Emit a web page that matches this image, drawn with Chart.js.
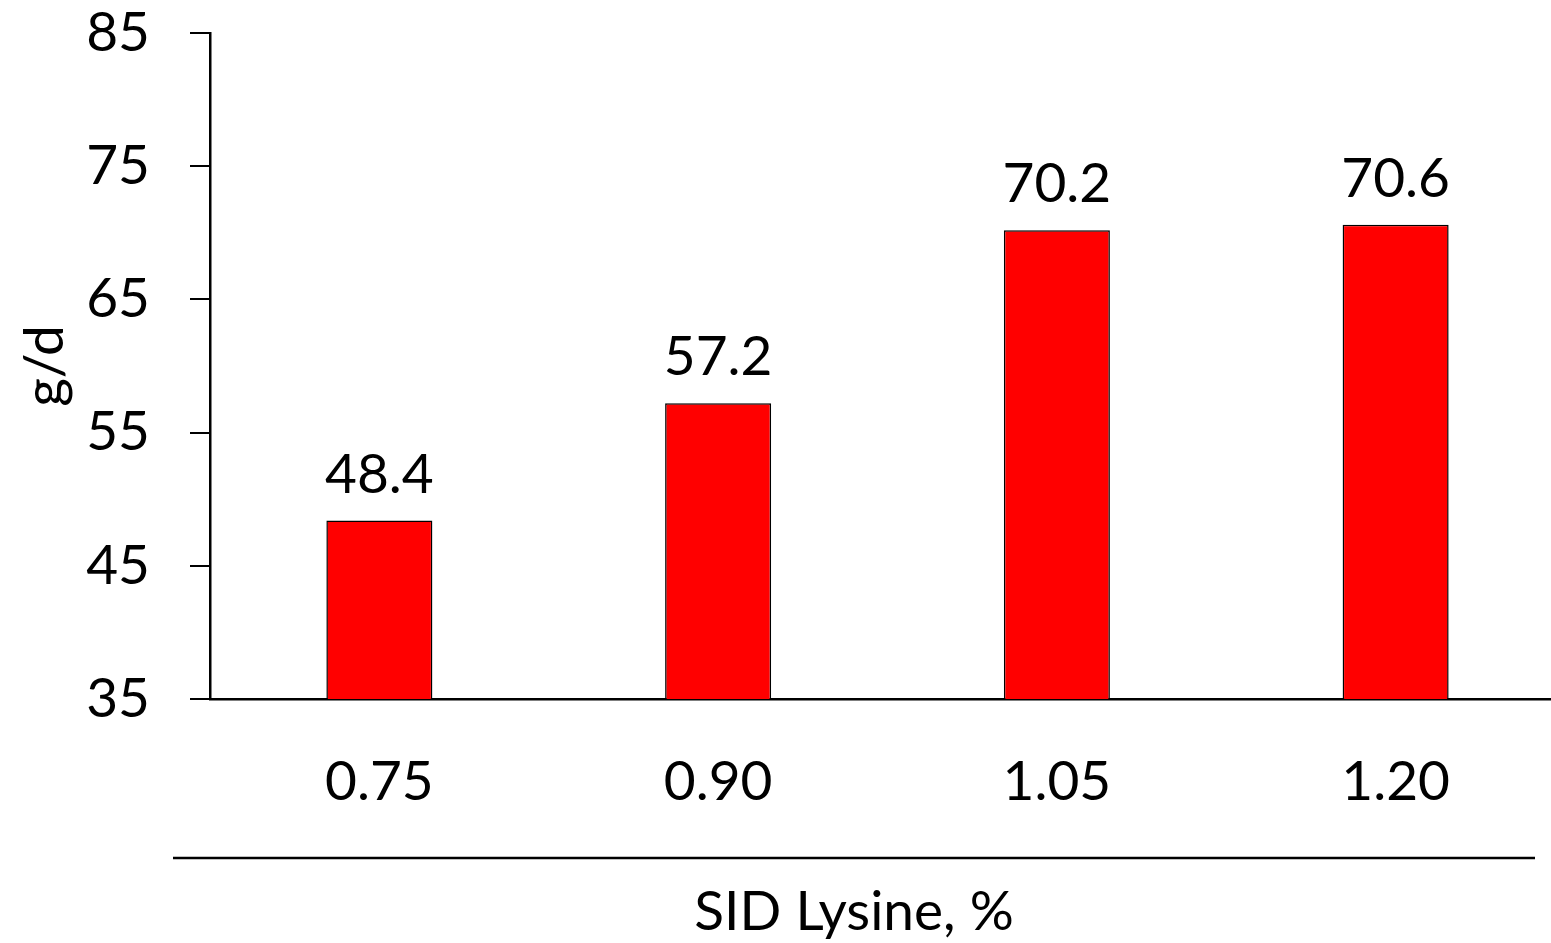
<!DOCTYPE html>
<html><head><meta charset="utf-8">
<script src="https://cdn.jsdelivr.net/npm/chart.js@4"></script>
<style>html,body{margin:0;padding:0;background:#fff;overflow:hidden;width:1551px;height:943px}#wrap{width:1551px;height:943px;overflow:hidden}canvas{display:block}</style>
</head><body><div id="wrap"><canvas id="c" width="1565" height="943"></canvas></div>
<script>
const categories = ["0.75", "0.90", "1.05", "1.20"];
const values = [48.4, 57.2, 70.2, 70.6];
const yTicks = [35, 45, 55, 65, 75, 85];
const xTitle = "SID Lysine, %";
const yTitle = "g/d";
const FONT = "Lato, 'Open Sans', sans-serif";
const FSIZE = 55;

const labelPlugin = {
  id: 'valueLabels',
  afterDatasetsDraw(chart) {
    const ctx = chart.ctx;
    const meta = chart.getDatasetMeta(0);
    ctx.save();
    ctx.fillStyle = '#000';
    ctx.font = FSIZE + 'px ' + FONT;
    ctx.textAlign = 'center';
    ctx.textBaseline = 'alphabetic';
    meta.data.forEach((bar, i) => {
      ctx.fillText(values[i].toFixed(1), bar.x, bar.y - 28);
    });
    ctx.restore();
  }
};
const sepLine = {
  id: 'sepLine',
  afterDraw(chart) {
    const ctx = chart.ctx;
    ctx.save();
    ctx.strokeStyle = '#000';
    ctx.lineWidth = 2.5;
    ctx.beginPath();
    ctx.moveTo(173, 858);
    ctx.lineTo(1535, 858);
    ctx.stroke();
    ctx.fillStyle = '#000';
    ctx.font = FSIZE + 'px ' + FONT;
    ctx.textAlign = 'center';
    ctx.textBaseline = 'middle';
    ctx.fillText(xTitle, (173 + 1535) / 2, 912);
    ctx.restore();
  }
};

new Chart(document.getElementById('c'), {
  type: 'bar',
  data: {
    labels: categories,
    datasets: [{
      data: values,
      backgroundColor: '#ff0000',
      borderColor: '#000',
      borderWidth: 1.5,
      borderSkipped: false,
      barPercentage: 0.313,
      categoryPercentage: 1
    }]
  },
  options: {
    responsive: false,
    animation: false,
    layout: { padding: { top: 33, right: 0, left: 0, bottom: 0 } },
    plugins: { legend: { display: false }, tooltip: { enabled: false } },
    scales: {
      x: {
        grid: { display: false },
        border: { display: true, color: '#000', width: 2.5 },
        ticks: { color: '#000', font: { size: FSIZE, family: FONT }, padding: 42, maxRotation: 0 },
        afterFit(s) { s.height = 943 - 699; s.paddingLeft = 0; s.paddingRight = 0; }
      },
      y: {
        min: 35, max: 85,
        afterBuildTicks(s) { s.ticks = yTicks.map(v => ({ value: v })); },
        grid: { display: true, drawOnChartArea: false, drawTicks: true, tickLength: 20, color: '#000', lineWidth: 2 },
        border: { display: true, color: '#000', width: 2.5 },
        ticks: { color: '#000', font: { size: FSIZE, family: FONT }, padding: 40 },
        title: { display: true, text: yTitle, color: '#000', font: { size: FSIZE, family: FONT }, padding: { top: 12, bottom: 0 } },
        afterFit(s) { s.width = 210; s.paddingTop = 0; s.paddingBottom = 0; }
      }
    }
  },
  plugins: [labelPlugin, sepLine]
});
</script>
</body></html>
